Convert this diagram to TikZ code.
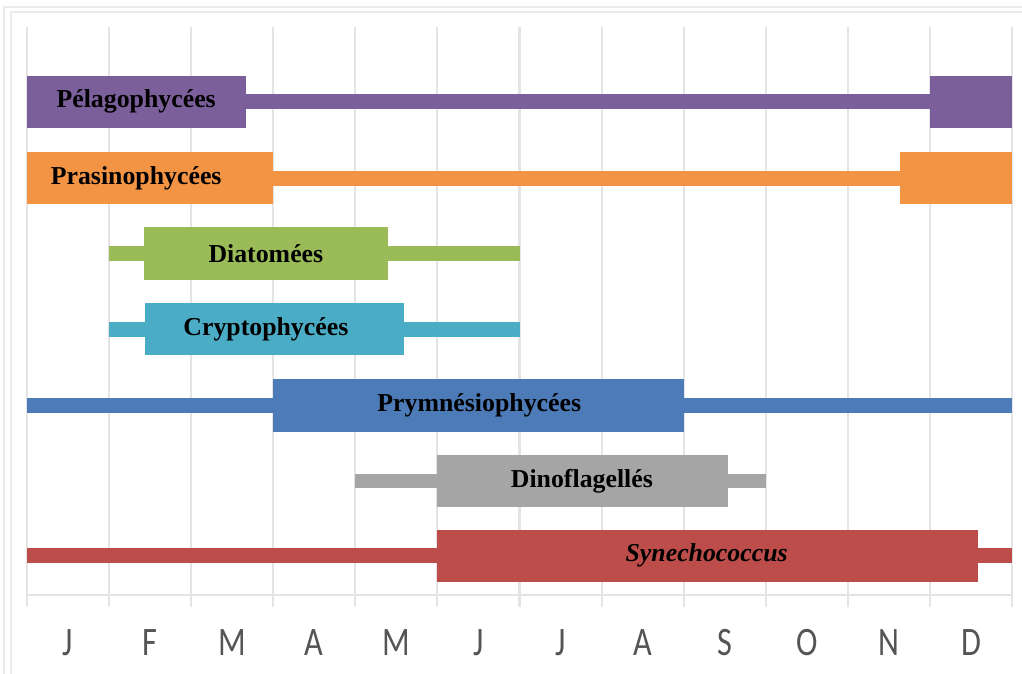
\documentclass[tikz,border=0pt]{standalone}
\usepackage{fontspec}
\setmainfont{Liberation Serif}
\newfontfamily\carlito{Carlito}

\definecolor{cpelago}{HTML}{7B5F9B}
\definecolor{cprasino}{HTML}{F39444}
\definecolor{cdiatom}{HTML}{9BBB59}
\definecolor{ccrypto}{HTML}{4BACC6}
\definecolor{cprymn}{HTML}{4C7BB8}
\definecolor{cdino}{HTML}{A5A5A5}
\definecolor{csyn}{HTML}{BD4D4A}
\definecolor{cgrille}{HTML}{E4E4E4}
\definecolor{cmois}{HTML}{555555}

\tikzset{
  grille/.style={cgrille, line width=0.7pt},
  cadre/.style={black!8, line width=0.6pt},
  etiquette/.style={font=\bfseries\fontsize{8.95}{11}\selectfont, text=black, inner sep=0pt},
  mois/.style={font=\carlito\fontsize{14}{16}\selectfont, text=cmois, inner sep=0pt}
}

\begin{document}
\begin{tikzpicture}[x=1cm, y=1cm]

  \useasboundingbox (-0.329,0) rectangle (12.122,8.211);

  % --- cadre du graphique ---
  \draw[cadre] (12.2,8.126) -- (-0.28,8.126) -- (-0.28,-0.1);
  \draw[cadre] (12.2,8.065) -- (-0.195,8.065) -- (-0.195,-0.1);

  % --- grille et axe des mois ---
  \foreach \m in {0,...,12}
    \draw[grille] (\m,0.816) -- (\m,7.88);
  \draw[grille] (0,0.962) -- (12,0.962);
  \foreach \l [count=\i] in {J,F,M,A,M,J,J,A,S,O,N,D}
    \node[mois] (m\i) at (\i-0.5,0.378) {\scalebox{0.8}[1]{\l}};

  % --- Pelagophycees ---
  \fill[cpelago] (2.67,6.88) rectangle (11,7.06);
  \fill[cpelago] (0,6.65) rectangle (2.67,7.29);
  \fill[cpelago] (11,6.65) rectangle (12,7.29);
  \node[etiquette] (pelago) at (1.33,6.97) {Pélagophycées};

  % --- Prasinophycees ---
  \fill[cprasino] (3,5.95) rectangle (10.64,6.13);
  \fill[cprasino] (0,5.72) rectangle (3,6.36);
  \fill[cprasino] (10.64,5.72) rectangle (12,6.36);
  \node[etiquette] (prasino) at (1.33,6.04) {Prasinophycées};

  % --- Diatomees ---
  \fill[cdiatom] (1,5.03) rectangle (6,5.21);
  \fill[cdiatom] (1.43,4.8) rectangle (4.4,5.44);
  \node[etiquette] (diatom) at (2.91,5.12) {Diatomées};

  % --- Cryptophycees ---
  \fill[ccrypto] (1,4.11) rectangle (6,4.29);
  \fill[ccrypto] (1.44,3.88) rectangle (4.59,4.52);
  \node[etiquette] (crypto) at (2.91,4.2) {Cryptophycées};

  % --- Prymnesiophycees ---
  \fill[cprymn] (0,3.18) rectangle (12,3.36);
  \fill[cprymn] (3,2.95) rectangle (8,3.59);
  \node[etiquette] (prymn) at (5.51,3.27) {Prymnésiophycées};

  % --- Dinoflagelles ---
  \fill[cdino] (4,2.26) rectangle (9,2.44);
  \fill[cdino] (5,2.03) rectangle (8.54,2.67);
  \node[etiquette] (dino) at (6.76,2.35) {Dinoflagellés};

  % --- Synechococcus ---
  \fill[csyn] (0,1.35) rectangle (12,1.53);
  \fill[csyn] (5,1.12) rectangle (11.59,1.76);
  \node[etiquette] (syn) at (8.28,1.44) {\itshape Synechococcus};

\end{tikzpicture}
\end{document}
